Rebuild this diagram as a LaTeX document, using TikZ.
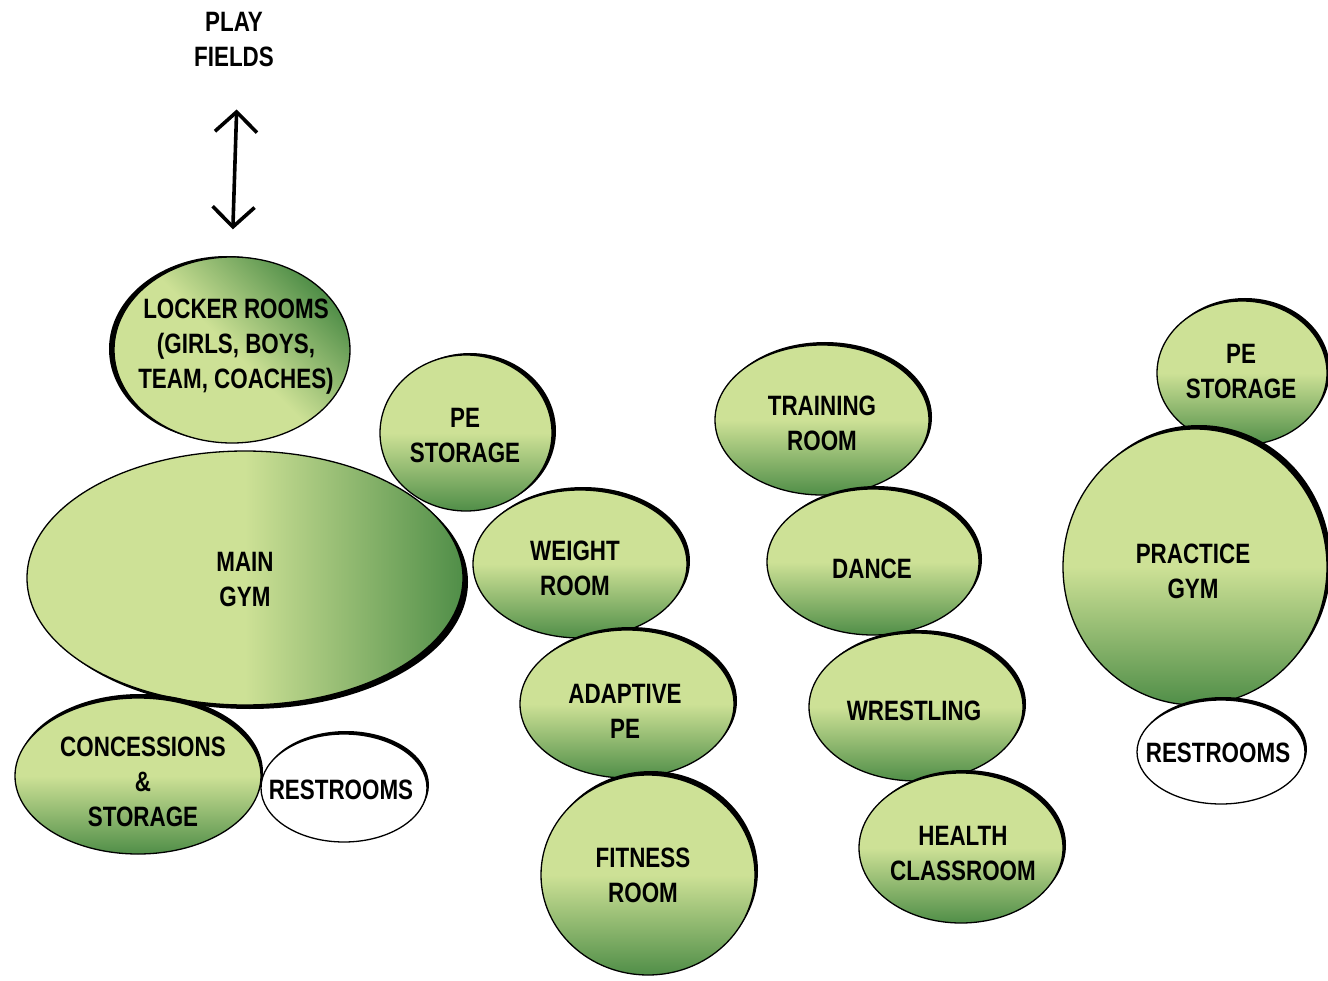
\documentclass[tikz,border=0pt]{standalone}
\usepackage{fontspec}
\setmainfont{Liberation Sans}[FakeStretch=0.8]
\usetikzlibrary{shapes.geometric,shadows,arrows.meta}
\definecolor{lite}{RGB}{205,225,150}
\definecolor{deep}{RGB}{80,142,72}
\begin{document}
\begin{tikzpicture}[x=1pt,y=-1pt,
  room/.style 2 args={ellipse, inner sep=0pt, minimum width=#1, minimum height=#2,
    draw=black, line width=1.3pt},
  vshade/.style={top color=lite, bottom color=deep, middle color=lite},
  hshade/.style={left color=lite, right color=deep, middle color=lite},
  dshade/.style={top color=deep, bottom color=lite, middle color=lite, shading angle=-45},
  plain/.style={fill=white},
  ink/.style 2 args={general shadow={fill=black, draw=none, shadow xshift=#1, shadow yshift=#2}},
  tag/.style={align=center, inner sep=0pt, font=\bfseries\fontsize{28}{35}\selectfont},
  barb/.tip={Straight Barb[length=20pt,width=42pt,line width=3.6pt]},
  twoway/.style={barb-barb, line width=3.6pt, shorten <=42pt, shorten >=27pt}
]
\useasboundingbox[fill=white] (0,0) rectangle (1328,981);

% rooms of the middle and right wings
\node[room={172pt}{156pt}, vshade, ink={4pt}{2pt}] (pe1) at (466,433) {};
\node[room={214pt}{148pt}, vshade, ink={3pt}{3pt}] (weight) at (580,564) {};
\node[room={214pt}{148pt}, vshade, ink={3pt}{3pt}] (adaptive) at (627,704) {};
\node[room={214pt}{200pt}, vshade, ink={3pt}{4pt}] (fitness) at (648,875) {};
\node[room={214pt}{150pt}, vshade, ink={3pt}{3pt}] (training) at (822,420) {};
\node[room={212pt}{146pt}, vshade, ink={3pt}{3pt}] (dance) at (873,562) {};
\node[room={214pt}{148pt}, vshade, ink={3pt}{3pt}] (wrestling) at (916,707) {};
\node[room={204pt}{150pt}, vshade, ink={3pt}{3pt}] (health) at (961,848) {};
\node[room={170pt}{144pt}, vshade, ink={3pt}{3pt}] (pe2) at (1242,373) {};
\node[room={264pt}{276pt}, vshade, ink={4pt}{4pt}] (practice) at (1195,567) {};
\node[room={168pt}{104pt}, plain, ink={2pt}{3pt}] (rest2) at (1221,752) {};

% main gym cluster
\node[room={236pt}{186pt}, dshade, ink={-5pt}{1pt}] (locker) at (232,350) {};
\node[room={436pt}{254pt}, hshade, ink={5pt}{-4pt}] (gym) at (245,578) {};
\node[room={246pt}{156pt}, vshade, ink={2pt}{4pt}] (conc) at (138,776) {};
\node[room={166pt}{108pt}, plain, ink={2pt}{3pt}] (rest1) at (344,788) {};

% room names
\node[tag] (locker-t) at (236,347) {LOCKER ROOMS\\(GIRLS, BOYS,\\TEAM, COACHES)};
\node[tag] (gym-t) at (245,580) {MAIN\\GYM};
\node[tag] (conc-t) at (143,782) {CONCESSIONS\\\&\\STORAGE};
\node[tag] (rest1-t) at (341,790) {RESTROOMS};
\node[tag] (pe1-t) at (465,436) {PE\\STORAGE};
\node[tag] (weight-t) at (575,568) {WEIGHT\\ROOM};
\node[tag] (adaptive-t) at (625,711) {ADAPTIVE\\PE};
\node[tag] (fitness-t) at (643,875) {FITNESS\\ROOM};
\node[tag] (training-t) at (822,423) {TRAINING\\ROOM};
\node[tag] (dance-t) at (872,569) {DANCE};
\node[tag] (wrestling-t) at (914,711) {WRESTLING};
\node[tag] (health-t) at (963,853) {HEALTH\\CLASSROOM};
\node[tag] (pe2-t) at (1241,372) {PE\\STORAGE};
\node[tag] (practice-t) at (1193,571) {PRACTICE\\GYM};
\node[tag] (rest2-t) at (1218,753) {RESTROOMS};

% access to the play fields
\node[tag] (play) at (234,40) {PLAY\\FIELDS};
\draw[twoway] ([xshift=4pt]play.south) -- (locker.north);
\end{tikzpicture}
\end{document}
